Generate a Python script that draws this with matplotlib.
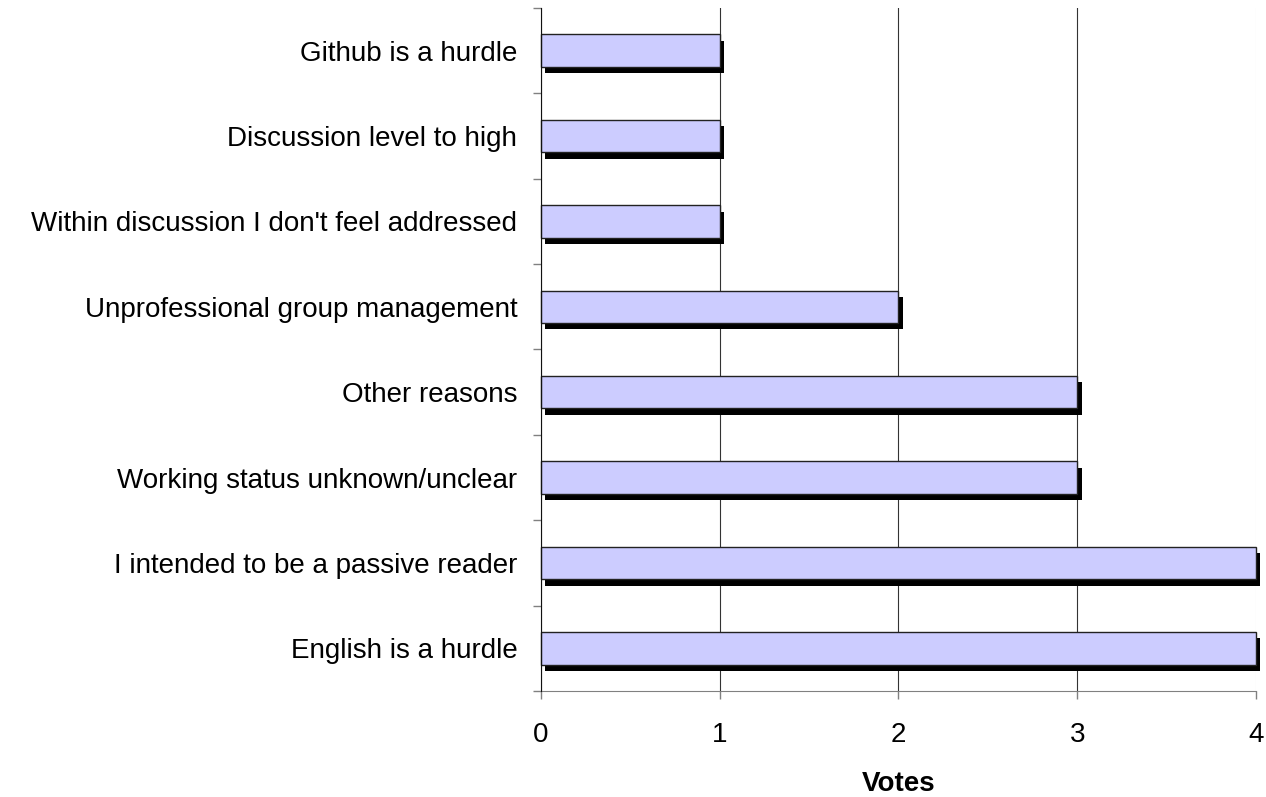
import matplotlib.pyplot as plt
import matplotlib.patheffects as pe
import numpy as np

# Survey answers, listed from bottom to top of the chart
reasons = [
    "English is a hurdle",
    "I intended to be a passive reader",
    "Working status unknown/unclear",
    "Other reasons",
    "Unprofessional group management",
    "Within discussion I don't feel addressed",
    "Discussion level to high",
    "Github is a hurdle",
]
votes = [4, 4, 3, 3, 2, 1, 1, 1]
x_ticks = [0, 1, 2, 3, 4]

plt.rcParams['font.family'] = ['Liberation Sans', 'DejaVu Sans']

fig = plt.figure(figsize=(12.66, 7.97), dpi=100)
ax = fig.add_axes([0.4273, 0.133, 0.9921 - 0.4273, 0.99 - 0.133])

pos = np.arange(len(reasons))
bars = ax.barh(pos, votes, height=0.38, color='#ccccff', edgecolor='#222222',
               linewidth=1.0, zorder=3)
# drop shadow below/right of each bar
for b in bars:
    b.set_clip_on(False)
    b.set_path_effects([pe.SimplePatchShadow(offset=(3.2, -4.6), shadow_rgbFace='black', alpha=1.0),
                        pe.Normal()])

ax.set_xlim(0, 4)
ax.set_ylim(-0.5, len(reasons) - 0.5)

ax.set_xticks(x_ticks)
ax.set_xticklabels([str(t) for t in x_ticks], fontsize=20)
ax.set_yticks(pos)
ax.set_yticklabels(reasons, fontsize=20)
ax.set_yticks(np.arange(len(reasons) + 1) - 0.5, minor=True)

ax.tick_params(axis='y', which='major', length=0, pad=17)
ax.tick_params(axis='y', which='minor', length=6, color='#808080', width=1)
ax.tick_params(axis='x', which='major', length=6, color='#808080', width=1, pad=16)

ax.grid(axis='x', color='#333333', linewidth=0.8, zorder=0)
ax.set_axisbelow(True)
ax.xaxis.get_gridlines()[-1].set_color('#dddddd')

for side in ['top', 'right']:
    ax.spines[side].set_visible(False)
ax.spines['left'].set_color('#111111')
ax.spines['bottom'].set_color('#808080')
ax.spines['left'].set_zorder(4)

ax.set_xlabel('Votes', fontsize=20, fontweight='bold', labelpad=17)

plt.savefig('out.png', dpi=100)
plt.close()
